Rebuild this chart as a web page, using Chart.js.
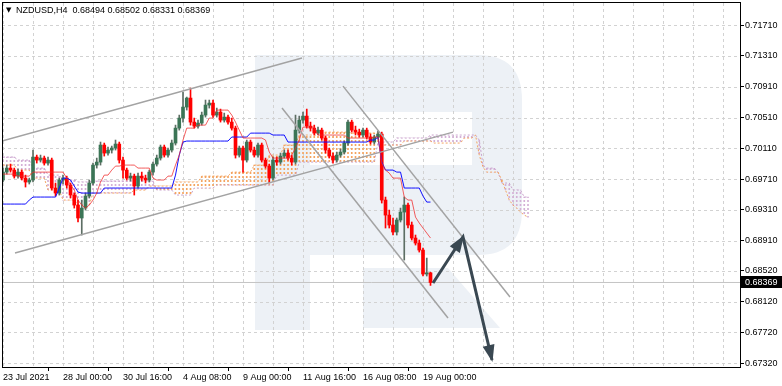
<!DOCTYPE html>
<html><head><meta charset="utf-8">
<script src="https://cdn.jsdelivr.net/npm/chart.js@4.4.1/dist/chart.umd.min.js"></script>
<style>html,body{margin:0;padding:0;background:#fff;overflow:hidden}#wrap{width:782px;height:386px}</style>
</head><body><div id="wrap"><canvas id="c" width="782" height="386"></canvas></div>
<script>
const symbolTitle = 'NZDUSD,H4  0.68494 0.68502 0.68331 0.68369';
const xLabels = ['23 Jul 2021','28 Jul 00:00','30 Jul 16:00','4 Aug 08:00','9 Aug 00:00','11 Aug 16:00','16 Aug 08:00','19 Aug 00:00'];
const yTicks = [0.71710,0.71310,0.70910,0.70510,0.70110,0.69710,0.69310,0.68910,0.68520,0.68120,0.67720,0.67320];
const currentPrice = 0.68369;

const openP = [0.69699,0.69802,0.69854,0.69828,0.69750,0.69802,0.69724,0.69673,0.69699,0.69997,
 0.69958,0.69984,0.69919,0.69958,0.69595,0.69530,0.69699,0.69724,0.69634,0.69504,
 0.69374,0.69206,0.69335,0.69491,0.69660,0.69893,0.69932,0.70153,0.70049,0.70088,
 0.70114,0.70166,0.69958,0.69828,0.69724,0.69750,0.69621,0.69750,0.69724,0.69699,
 0.69802,0.69906,0.69984,0.70127,0.70023,0.70088,0.70179,0.70373,0.70503,0.70646,
 0.70763,0.70451,0.70399,0.70438,0.70542,0.70672,0.70698,0.70542,0.70581,0.70477,
 0.70516,0.70451,0.70373,0.70023,0.70114,0.69958,0.70192,0.70088,0.70023,0.70153,
 0.69958,0.69880,0.69724,0.69958,0.69932,0.70010,0.70049,0.69984,0.69932,0.70347,
 0.70477,0.70529,0.70399,0.70373,0.70308,0.70347,0.70244,0.70088,0.70010,0.69958,
 0.70023,0.70062,0.70179,0.70451,0.70347,0.70321,0.70283,0.70347,0.70257,0.70192,
 0.70257,0.70295,0.69439,0.69244,0.69115,0.69024,0.69180,0.69283,0.69374,0.69115,
 0.68946,0.68881,0.68790,0.68479,0.68494];
const highP = [0.69854,0.69893,0.69906,0.69854,0.69841,0.69828,0.69763,0.69724,0.70088,0.70023,
 0.70023,0.70010,0.69997,0.69984,0.69660,0.69724,0.69763,0.69750,0.69660,0.69530,
 0.69439,0.69439,0.69530,0.69699,0.69919,0.69984,0.70192,0.70179,0.70127,0.70140,
 0.70218,0.70192,0.69997,0.69854,0.69789,0.69776,0.69789,0.69802,0.69763,0.69828,
 0.69932,0.70023,0.70153,0.70153,0.70114,0.70218,0.70412,0.70542,0.70841,0.70776,
 0.70892,0.70503,0.70477,0.70581,0.70737,0.70737,0.70737,0.70633,0.70620,0.70568,
 0.70542,0.70503,0.70399,0.70140,0.70140,0.70218,0.70218,0.70127,0.70179,0.70179,
 0.69984,0.69906,0.69997,0.69997,0.70049,0.70088,0.70088,0.70023,0.70542,0.70529,
 0.70581,0.70620,0.70451,0.70412,0.70386,0.70373,0.70270,0.70114,0.70049,0.70062,
 0.70101,0.70205,0.70477,0.70477,0.70399,0.70360,0.70373,0.70373,0.70295,0.70283,
 0.70334,0.70321,0.69478,0.69309,0.69206,0.69206,0.69335,0.69478,0.69400,0.69154,
 0.68985,0.68920,0.68816,0.68686,0.68502];
const lowP = [0.69673,0.69776,0.69802,0.69724,0.69724,0.69699,0.69608,0.69647,0.69673,0.69919,
 0.69932,0.69893,0.69893,0.69569,0.69491,0.69504,0.69647,0.69595,0.69465,0.69335,
 0.69154,0.68985,0.69309,0.69465,0.69634,0.69854,0.69893,0.70010,0.70023,0.70049,
 0.70088,0.69919,0.69724,0.69699,0.69686,0.69504,0.69595,0.69686,0.69660,0.69673,
 0.69763,0.69880,0.69958,0.69997,0.69997,0.70062,0.70153,0.70347,0.70451,0.70607,
 0.70412,0.70373,0.70373,0.70412,0.70516,0.70633,0.70516,0.70516,0.70451,0.70451,
 0.70425,0.70347,0.69984,0.69997,0.69802,0.69932,0.70062,0.69997,0.69997,0.69932,
 0.69854,0.69660,0.69699,0.69893,0.69906,0.69984,0.69958,0.69893,0.69906,0.70308,
 0.70438,0.70373,0.70334,0.70283,0.70283,0.70218,0.70049,0.69984,0.69919,0.69932,
 0.69997,0.70036,0.70153,0.70321,0.70283,0.70257,0.70257,0.70231,0.70166,0.70166,
 0.70231,0.69400,0.69076,0.69076,0.68985,0.68985,0.69154,0.68660,0.69076,0.68920,
 0.68855,0.68764,0.68453,0.68453,0.68331];
const closeP = [0.69802,0.69854,0.69828,0.69750,0.69802,0.69724,0.69673,0.69699,0.69997,0.69958,
 0.69984,0.69919,0.69958,0.69595,0.69530,0.69699,0.69724,0.69634,0.69504,0.69374,
 0.69206,0.69335,0.69491,0.69660,0.69893,0.69932,0.70153,0.70049,0.70088,0.70114,
 0.70166,0.69958,0.69828,0.69724,0.69750,0.69621,0.69750,0.69724,0.69699,0.69802,
 0.69906,0.69984,0.70127,0.70023,0.70088,0.70179,0.70373,0.70503,0.70646,0.70763,
 0.70451,0.70399,0.70438,0.70542,0.70672,0.70698,0.70542,0.70581,0.70477,0.70516,
 0.70451,0.70373,0.70023,0.70114,0.69958,0.70192,0.70088,0.70023,0.70153,0.69958,
 0.69880,0.69724,0.69958,0.69932,0.70010,0.70049,0.69984,0.69932,0.70347,0.70477,
 0.70529,0.70399,0.70373,0.70308,0.70347,0.70244,0.70088,0.70010,0.69958,0.70023,
 0.70062,0.70179,0.70451,0.70347,0.70321,0.70283,0.70347,0.70257,0.70192,0.70257,
 0.70295,0.69439,0.69244,0.69115,0.69024,0.69180,0.69283,0.69374,0.69115,0.68946,
 0.68881,0.68790,0.68479,0.68494,0.68369];

const tenkan = [0.69776,0.69776,0.69776,0.69776,0.69750,0.69750,0.69750,0.69750,
 0.69802,0.69802,0.69802,0.69802,0.69802,0.69802,0.69802,0.69802,0.69802,
 0.69724,0.69634,0.69569,0.69439,0.69374,0.69335,0.69374,0.69439,0.69530,0.69673,
 0.69763,0.69763,0.69828,0.69880,0.69880,0.69893,0.69893,0.69893,0.69893,
 0.69854,0.69854,0.69854,0.69854,0.69724,0.69699,0.69699,0.69699,0.69750,0.69750,
 0.69893,0.70023,0.70218,0.70373,0.70373,0.70373,0.70412,0.70412,0.70412,0.70503,0.70503,
 0.70607,0.70607,0.70607,0.70607,0.70542,0.70451,0.70347,
 0.70244,0.70244,0.70244,0.70244,0.70244,0.70244,0.70218,0.70062,
 0.69984,0.69984,0.69984,0.69984,0.69984,0.70023,0.70114,0.70218,
 0.70386,0.70386,0.70386,0.70386,0.70283,0.70283,0.70283,0.70283,0.70283,0.70283,0.70283,0.70283,
 0.70244,0.70244,0.70244,0.70244,0.70244,0.70244,0.70244,0.70257,0.70257,
 0.69919,0.69828,0.69789,0.69724,0.69724,0.69724,0.69478,0.69439,0.69439,
 0.69218,0.69141,0.69076,0.69011,0.68946];
const kijun = [0.69387,0.69387,0.69387,0.69387,0.69387,0.69387,0.69387,0.69439,
 0.69478,0.69478,0.69478,0.69478,0.69478,0.69478,0.69478,0.69595,0.69724,0.69724,0.69699,0.69621,0.69543,
 0.69530,0.69530,0.69530,0.69530,0.69530,0.69530,
 0.69595,0.69595,0.69595,0.69595,0.69595,0.69595,0.69595,0.69595,0.69595,0.69595,
 0.69595,0.69595,0.69595,0.69595,0.69595,0.69595,0.69595,0.69595,0.69595,
 0.69763,0.70023,0.70192,
 0.70205,0.70205,0.70205,0.70205,0.70205,0.70205,0.70205,0.70205,0.70205,0.70205,0.70205,0.70205,
 0.70257,0.70257,0.70257,0.70257,0.70257,0.70308,0.70308,0.70308,0.70308,0.70308,0.70308,
 0.70283,0.70283,0.70283,0.70283,
 0.70192,0.70192,0.70192,0.70192,0.70192,0.70192,0.70192,0.70192,0.70192,0.70192,0.70192,
 0.70192,0.70192,0.70192,0.70192,0.70192,0.70192,0.70192,0.70192,0.70192,0.70192,0.70192,
 0.70218,0.70218,0.70257,0.69932,0.69828,0.69828,0.69828,0.69802,0.69802,
 0.69595,0.69595,0.69595,0.69595,0.69595,0.69491,0.69413,0.69413];
const spanA = [0.69893,0.69893,0.69893,0.69893,0.69828,0.69828,0.69828,0.69828,
 0.69724,0.69724,0.69724,0.69724,0.69569,0.69569,0.69569,0.69569,0.69439,0.69439,0.69439,0.69439,
 0.69374,0.69374,0.69374,0.69374,
 0.69530,0.69530,0.69530,0.69530,0.69530,0.69530,0.69530,0.69530,0.69530,0.69530,0.69530,
 0.69569,0.69569,0.69569,0.69569,0.69621,0.69621,0.69621,0.69621,0.69621,0.69621,0.69621,
 0.69673,0.69673,0.69673,0.69673,0.69673,0.69673,0.69673,
 0.69750,0.69750,0.69750,0.69750,0.69750,0.69750,0.69750,0.69750,
 0.69802,0.69802,0.69802,0.69802,0.69802,0.69802,0.69893,0.69893,0.69893,0.69893,
 0.70023,0.70023,0.70023,0.70023,0.70153,0.70153,0.70153,0.70153,
 0.70283,0.70283,0.70283,0.70283,0.70283,0.70283,
 0.70321,0.70321,0.70321,0.70321,0.70321,0.70321,0.70321,0.70321,
 0.70308,0.70308,0.70308,0.70308,0.70308,0.70308,0.70308,0.70308,
 0.70153,0.70153,0.70153,0.70153,0.70153,0.70153,
 0.70205,0.70205,0.70205,0.70205,0.70205,0.70205,0.70205,0.70205,
 0.70179,0.70179,0.70179,0.70179,0.70179,0.70179,0.70179,0.70179,
 0.70244,0.70244,0.70244,0.70283,0.70023,0.69867,0.69802,0.69802,0.69802,0.69802,
 0.69699,0.69569,0.69439,0.69374,0.69335,0.69283,0.69244,0.69218];
const spanB = [0.69997,0.69997,0.69997,0.69997,0.69958,0.69958,0.69958,0.69958,
 0.69854,0.69854,0.69854,0.69854,0.69763,0.69763,0.69763,0.69763,0.69699,0.69699,0.69699,0.69699,
 0.69673,0.69673,0.69673,0.69673,
 0.69686,0.69686,0.69686,0.69686,0.69686,0.69686,0.69686,0.69686,0.69686,0.69686,
 0.69686,0.69686,0.69686,0.69686,0.69686,0.69686,0.69686,
 0.69569,0.69569,0.69569,0.69569,0.69569,0.69504,0.69504,0.69504,0.69504,0.69504,
 0.69595,0.69595,0.69595,0.69595,0.69595,0.69595,
 0.69634,0.69634,0.69634,0.69634,0.69634,0.69634,0.69634,0.69634,
 0.69634,0.69634,0.69634,0.69634,0.69634,0.69634,0.69634,0.69634,
 0.69763,0.69763,0.69763,0.69763,0.69763,0.69763,
 0.69932,0.69932,0.69932,0.69932,0.69932,0.69932,0.69932,0.69932,0.69932,0.69932,0.69932,
 0.69932,0.69932,0.69932,0.69932,0.69932,0.69932,0.69932,0.69932,0.69932,0.69932,
 0.70192,0.70192,0.70192,0.70192,0.70192,
 0.70244,0.70244,0.70244,0.70244,0.70244,0.70244,0.70244,0.70244,0.70244,
 0.70283,0.70283,0.70283,0.70283,0.70283,0.70283,0.70283,0.70283,0.70283,0.70283,0.70283,0.70283,0.70283,
 0.70218,0.69893,0.69854,0.69854,0.69854,0.69802,0.69660,0.69660,0.69660,
 0.69569,0.69569,0.69569,0.69478,0.69478];

// trend lines: [barIndex, price] pairs
const channelUpTop = [[-0.27,0.70205],[79.73,0.71282]];
const channelUpBottom = [[3.2,0.68751],[120,0.70321]];
const channelDownTop = [[90.67,0.70918],[135.2,0.68180]];
const channelDownBottom = [[74.4,0.70633],[118.67,0.67908]];
const forecastPath = [[114.67,0.68362],[122.67,0.68959],[130.4,0.67363]];

const xMin = -0.27, xMax = 196.8, yMin = 0.67259, yMax = 0.71997;
const gridStep = 8, labelStep = 16;

const BULL = '#3b7556', BULL_WICK = '#5d6e64', BEAR = '#ff0000';
const idx = closeP.map((_, k) => k);
const cidx = spanA.map((_, k) => k);

function dotPattern(color){
  const c = document.createElement('canvas'); c.width = 1; c.height = 4;
  const g = c.getContext('2d'); g.fillStyle = color; g.fillRect(0,0,1,2);
  return g.createPattern(c, 'repeat');
}
const patA = dotPattern('#f4a460'), patB = dotPattern('#d4b0d6');
const pts = arr => arr.map(p => ({x:p[0], y:p[1]}));
const FONT = {family:'"Liberation Sans", Arial, sans-serif', size:9};

const deco = {
  id:'deco',
  beforeDraw(chart){
    const {ctx} = chart;
    ctx.save();
    ctx.fillStyle = '#fff'; ctx.fillRect(0,0,chart.width,chart.height);
    // watermark logo
    ctx.fillStyle = '#edf1f6';
    ctx.beginPath();
    ctx.moveTo(255,55); ctx.lineTo(478,55);
    ctx.quadraticCurveTo(522,55,522,100);
    ctx.lineTo(522,210); ctx.quadraticCurveTo(522,255,478,255);
    ctx.lineTo(310,255); ctx.lineTo(310,330); ctx.lineTo(255,330); ctx.closePath();
    ctx.fill();
    ctx.fillStyle = '#fff'; ctx.fillRect(310,112,162,53);
    ctx.fillStyle = '#edf1f6';
    ctx.beginPath(); ctx.moveTo(363,268); ctx.lineTo(448,268); ctx.lineTo(500,328); ctx.lineTo(363,328); ctx.closePath(); ctx.fill();
    ctx.restore();
  },
  beforeDatasetsDraw(chart){
    const {ctx, scales:{x,y}} = chart; const a = chart.chartArea;
    ctx.save(); ctx.strokeStyle = '#d2d2d2'; ctx.lineWidth = 1; ctx.setLineDash([3,3]);
    yTicks.forEach(v => { const py = Math.round(y.getPixelForValue(v)) + 0.5;
      ctx.beginPath(); ctx.moveTo(a.left, py); ctx.lineTo(a.right, py); ctx.stroke(); });
    for (let k = 0; k <= xMax; k += gridStep) { const px = Math.round(x.getPixelForValue(k)) + 0.5;
      ctx.beginPath(); ctx.moveTo(px, a.top); ctx.lineTo(px, a.bottom); ctx.stroke(); }
    ctx.restore();
  },
  afterDraw(chart){
    const {ctx, scales:{x,y}} = chart; const a = chart.chartArea;
    ctx.save();
    const meta = chart.getDatasetMeta(chart.data.datasets.findIndex(d => d.label === 'forecast'));
    const P = meta.data.map(e => ({x:e.x, y:e.y}));
    ctx.fillStyle = '#3a4852';
    [[0,1],[1,2]].forEach(([i,j]) => {
      const dx = P[j].x - P[i].x, dy = P[j].y - P[i].y, L = Math.hypot(dx,dy);
      const ux = dx/L, uy = dy/L, len = 15, hw = 6;
      const bx = P[j].x - ux*len, by = P[j].y - uy*len;
      ctx.beginPath(); ctx.moveTo(P[j].x + ux*2, P[j].y + uy*2);
      ctx.lineTo(bx - uy*hw, by + ux*hw); ctx.lineTo(bx + uy*hw, by - ux*hw); ctx.closePath(); ctx.fill();
    });
    ctx.strokeStyle = '#000'; ctx.lineWidth = 1; ctx.setLineDash([]);
    ctx.strokeRect(a.left + 0.5, a.top - 0.5, a.right - a.left - 1, a.bottom - a.top);
    const py = Math.round(y.getPixelForValue(currentPrice));
    ctx.fillStyle = '#000'; ctx.fillRect(a.right, py - 6, 41, 12);
    ctx.fillStyle = '#fff'; ctx.font = '9px "Liberation Sans", Arial, sans-serif';
    ctx.textBaseline = 'middle'; ctx.textAlign = 'left';
    ctx.fillText(currentPrice.toFixed(5), a.right + 4, py + 0.5);
    ctx.fillStyle = '#000';
    ctx.font = '7px "DejaVu Sans", sans-serif'; ctx.fillText('\u25BC', 6, 10.5);
    ctx.font = '9px "Liberation Sans", Arial, sans-serif';
    ctx.fillText(symbolTitle, 16, 10.5);
    ctx.restore();
  }
};

new Chart(document.getElementById('c'), {
  type:'line',
  data:{ datasets:[
    {label:'forecast', type:'line', data:pts(forecastPath), borderColor:'#3a4852', borderWidth:3, pointRadius:0, order:1},
    {label:'chUpTop', type:'line', data:pts(channelUpTop), borderColor:'#a3a3a3', borderWidth:1.5, pointRadius:0, order:2},
    {label:'chUpBottom', type:'line', data:pts(channelUpBottom), borderColor:'#a3a3a3', borderWidth:1.5, pointRadius:0, order:2},
    {label:'chDownTop', type:'line', data:pts(channelDownTop), borderColor:'#a3a3a3', borderWidth:1.5, pointRadius:0, order:2},
    {label:'chDownBottom', type:'line', data:pts(channelDownBottom), borderColor:'#a3a3a3', borderWidth:1.5, pointRadius:0, order:2},
    {label:'tenkan', type:'line', data:idx.map(k => ({x:k, y:tenkan[k]})), borderColor:'rgba(240,40,40,0.75)', borderWidth:1, pointRadius:0, order:3},
    {label:'kijun', type:'line', data:idx.map(k => ({x:k, y:kijun[k]})), borderColor:'#1010ff', borderWidth:1, pointRadius:0, order:4},
    {label:'body', type:'bar', data:idx.map(k => ({x:k, y:[openP[k], closeP[k]]})),
      backgroundColor: idx.map(k => closeP[k] >= openP[k] ? BULL : BEAR), barThickness:3, minBarLength:1, grouped:false, order:5},
    {label:'wick', type:'bar', data:idx.map(k => ({x:k, y:[lowP[k], highP[k]]})),
      backgroundColor: idx.map(k => closeP[k] >= openP[k] ? BULL_WICK : BEAR), barThickness:1, grouped:false, order:6},
    {label:'price', type:'line', data:[{x:xMin, y:currentPrice},{x:xMax, y:currentPrice}], borderColor:'#c4c4c4', borderWidth:1, pointRadius:0, order:7},
    {label:'spanA', type:'line', data:cidx.map(k => ({x:k, y:spanA[k]})), borderColor:'#f4a460', borderWidth:1, borderDash:[2,2], pointRadius:0, order:8},
    {label:'spanB', type:'line', data:cidx.map(k => ({x:k, y:spanB[k]})), borderColor:'#c9a2cc', borderWidth:1, borderDash:[2,2], pointRadius:0, order:8},
    {label:'cloud', type:'bar', data:cidx.map(k => ({x:k, y:[spanA[k], spanB[k]]})),
      backgroundColor: cidx.map(k => spanA[k] >= spanB[k] ? patA : patB), barThickness:1, grouped:false, order:9}
  ]},
  options:{
    responsive:false, animation:false, devicePixelRatio:1,
    layout:{padding:{left:2, top:3, right:0, bottom:0}},
    plugins:{legend:{display:false}, tooltip:{enabled:false}, title:{display:false}},
    scales:{
      x:{type:'linear', min:xMin, max:xMax, offset:false,
        afterBuildTicks: s => { const t = []; for (let k = 0; k <= xMax; k += gridStep) t.push({value:k}); s.ticks = t; },
        afterFit: s => { s.height = 18; s.paddingLeft = 0; s.paddingRight = 0; },
        grid:{drawOnChartArea:false, drawTicks:true, tickLength:3, tickWidth:1,
          tickColor: c => (c.tick && c.tick.value % labelStep === 0 && c.tick.value / labelStep < xLabels.length) ? '#000' : 'rgba(0,0,0,0)'},
        border:{display:false},
        ticks:{autoSkip:false, maxRotation:0, minRotation:0, align:'start', padding:1, color:'#000', font:FONT,
          callback: v => (v % labelStep === 0 && v / labelStep < xLabels.length) ? xLabels[v / labelStep] : ''}
      },
      y:{type:'linear', position:'right', min:yMin, max:yMax,
        afterBuildTicks: s => { s.ticks = yTicks.map(v => ({value:v})); },
        afterFit: s => { s.width = 41; s.paddingTop = 0; s.paddingBottom = 0; },
        grid:{drawOnChartArea:false, drawTicks:true, tickLength:3, tickColor:'#000'},
        border:{display:false},
        ticks:{padding:1, color:'#000', font:FONT, callback: v => Number(v).toFixed(5)}
      }
    }
  },
  plugins:[deco]
});
</script></body></html>
